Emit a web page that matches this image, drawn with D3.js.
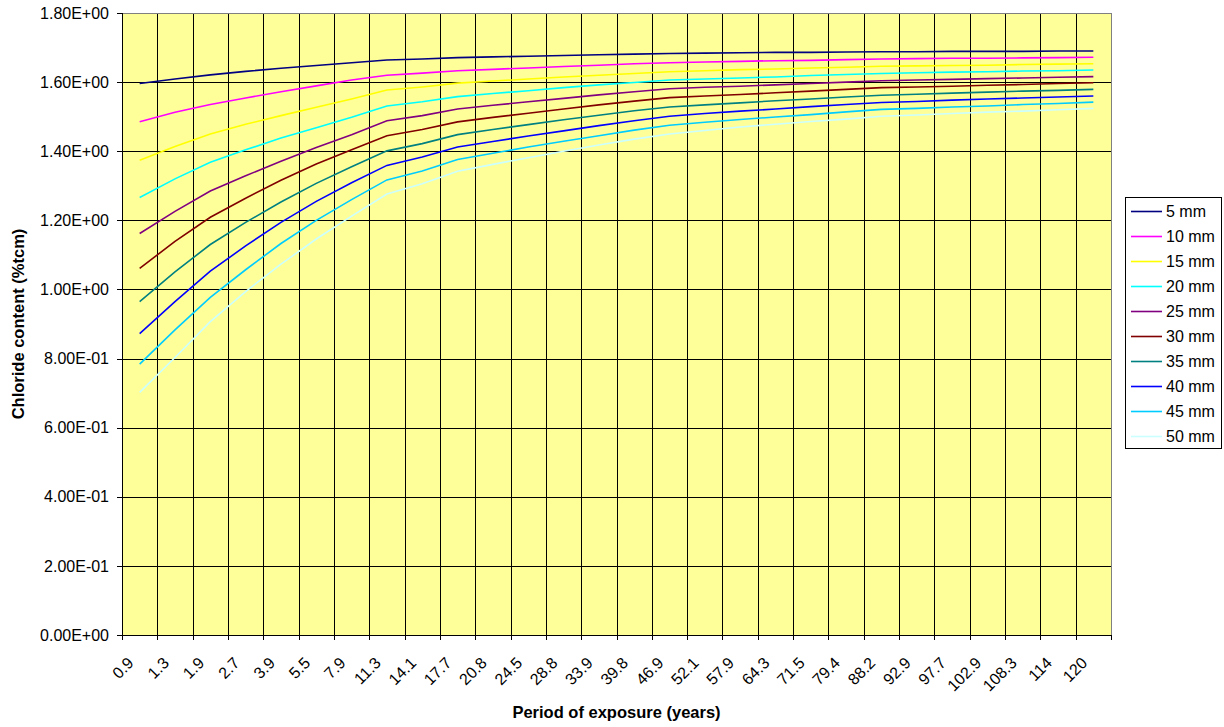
<!DOCTYPE html>
<html>
<head>
<meta charset="utf-8">
<script src="https://cdn.jsdelivr.net/npm/d3@7"></script>
<style>
  body { margin: 0; background: #fff; }
  text { font-family: "Liberation Sans", Arial, sans-serif; fill: #000; }
</style>
</head>
<body>
<div id="chart"></div>
<script>
// period of exposure (years)
var categories = ["0.9", "1.3", "1.9", "2.7", "3.9", "5.5", "7.9", "11.3", "14.1", "17.7",
  "20.8", "24.5", "28.8", "33.9", "39.8", "46.9", "52.1", "57.9", "64.3", "71.5",
  "79.4", "88.2", "92.9", "97.7", "102.9", "108.3", "114", "120"];

var yTicks = [0, 0.2, 0.4, 0.6, 0.8, 1.0, 1.2, 1.4, 1.6, 1.8];

var seriesNames = ["5 mm", "10 mm", "15 mm", "20 mm", "25 mm", "30 mm", "35 mm", "40 mm", "45 mm", "50 mm"];
var seriesColors = ["#000080", "#ff00ff", "#ffff00", "#00ffff", "#800080", "#800000", "#008080", "#0000ff", "#00ccff", "#ccffff"];

var s5 = [1.596, 1.609, 1.621, 1.631, 1.640, 1.648, 1.656, 1.664, 1.667, 1.671, 1.673, 1.675, 1.677, 1.679,
  1.681, 1.683, 1.684, 1.685, 1.686, 1.686, 1.687, 1.688, 1.688, 1.689, 1.689, 1.689, 1.690, 1.690];
var s10 = [1.485, 1.513, 1.535, 1.554, 1.572, 1.589, 1.606, 1.620, 1.626, 1.633, 1.637, 1.641, 1.645, 1.649,
  1.653, 1.656, 1.658, 1.660, 1.662, 1.663, 1.665, 1.667, 1.668, 1.669, 1.669, 1.670, 1.671, 1.672];
var s15 = [1.374, 1.414, 1.450, 1.478, 1.503, 1.527, 1.551, 1.577, 1.586, 1.597, 1.603, 1.609, 1.615, 1.620,
  1.625, 1.630, 1.633, 1.636, 1.638, 1.641, 1.643, 1.646, 1.647, 1.648, 1.649, 1.651, 1.652, 1.653];
var s20 = [1.266, 1.320, 1.368, 1.404, 1.438, 1.468, 1.498, 1.531, 1.543, 1.558, 1.567, 1.575, 1.584, 1.592,
  1.599, 1.606, 1.609, 1.612, 1.615, 1.619, 1.622, 1.625, 1.627, 1.629, 1.630, 1.632, 1.633, 1.635];
var s25 = [1.162, 1.226, 1.285, 1.329, 1.371, 1.411, 1.448, 1.488, 1.503, 1.522, 1.533, 1.543, 1.553, 1.563,
  1.572, 1.581, 1.585, 1.588, 1.592, 1.596, 1.600, 1.604, 1.606, 1.608, 1.610, 1.612, 1.614, 1.616];
var s30 = [1.061, 1.139, 1.209, 1.264, 1.316, 1.363, 1.404, 1.445, 1.463, 1.485, 1.498, 1.510, 1.522, 1.534,
  1.545, 1.555, 1.560, 1.564, 1.569, 1.574, 1.579, 1.584, 1.586, 1.588, 1.591, 1.593, 1.596, 1.598];
var s35 = [0.965, 1.051, 1.130, 1.194, 1.253, 1.307, 1.355, 1.401, 1.422, 1.448, 1.463, 1.477, 1.491, 1.504,
  1.517, 1.528, 1.534, 1.540, 1.546, 1.551, 1.557, 1.562, 1.565, 1.568, 1.571, 1.574, 1.576, 1.579];
var s40 = [0.872, 0.965, 1.053, 1.126, 1.194, 1.255, 1.309, 1.359, 1.383, 1.412, 1.428, 1.444, 1.459, 1.474,
  1.488, 1.501, 1.509, 1.516, 1.522, 1.529, 1.535, 1.541, 1.544, 1.548, 1.551, 1.554, 1.557, 1.560];
var s45 = [0.784, 0.883, 0.977, 1.057, 1.133, 1.200, 1.260, 1.317, 1.343, 1.376, 1.394, 1.412, 1.429, 1.445,
  1.461, 1.475, 1.484, 1.492, 1.499, 1.506, 1.514, 1.521, 1.524, 1.528, 1.531, 1.535, 1.538, 1.542];
var s50 = [0.702, 0.803, 0.907, 0.994, 1.073, 1.146, 1.212, 1.276, 1.306, 1.342, 1.362, 1.381, 1.400, 1.418,
  1.435, 1.450, 1.460, 1.470, 1.478, 1.486, 1.493, 1.501, 1.505, 1.509, 1.513, 1.516, 1.520, 1.524];

var allSeries = [s5, s10, s15, s20, s25, s30, s35, s40, s45, s50];

var svgWidth = 1224;
var svgHeight = 727;
var margin = { top: 13, right: 113, bottom: 92, left: 122 };
var width = svgWidth - margin.left - margin.right;
var height = svgHeight - margin.top - margin.bottom;

var svg = d3.select("#chart").append("svg")
  .attr("width", svgWidth)
  .attr("height", svgHeight);

var chartGroup = svg.append("g")
  .attr("transform", `translate(${margin.left}, ${margin.top})`);

// scales
var xBand = d3.scaleBand().domain(categories).range([0, width]).padding(0);
var xEdge = d3.scaleLinear().domain([0, categories.length]).range([0, width]);
var yLinearScale = d3.scaleLinear().domain([0, 1.8]).range([height, 0]);

function sciFormat(d) {
  var parts = d.toExponential(2).split("e");
  var e = parseInt(parts[1], 10);
  var sign = e < 0 ? "-" : "+";
  return parts[0] + "E" + sign + String(Math.abs(e)).padStart(2, "0");
}

// plot background
chartGroup.append("rect")
  .attr("width", width)
  .attr("height", height)
  .attr("fill", "#ffff99");

// gridlines
chartGroup.append("g")
  .attr("class", "ygrid")
  .call(d3.axisLeft(yLinearScale).tickValues(yTicks).tickSize(-width).tickFormat(""))
  .call(g => g.select(".domain").remove())
  .selectAll("line").attr("stroke", "#000").attr("shape-rendering", "crispEdges");

chartGroup.append("g")
  .attr("class", "xgrid")
  .call(d3.axisTop(xEdge).tickValues(d3.range(1, categories.length)).tickSize(-height).tickFormat(""))
  .call(g => g.select(".domain").remove())
  .selectAll("line").attr("stroke", "#000").attr("shape-rendering", "crispEdges");

// plot border top/right
chartGroup.append("path")
  .attr("d", `M0,0H${width}V${height}`)
  .attr("fill", "none")
  .attr("stroke", "#808080")
  .attr("shape-rendering", "crispEdges");

// lines
var line = d3.line()
  .x((d, i) => xBand(categories[i]) + xBand.bandwidth() / 2)
  .y(d => yLinearScale(d));

chartGroup.selectAll(".series")
  .data(allSeries)
  .enter()
  .append("path")
  .attr("class", "series")
  .attr("d", d => line(d))
  .attr("fill", "none")
  .attr("stroke", (d, i) => seriesColors[i])
  .attr("stroke-width", 1.6);

// y axis
var leftAxis = d3.axisLeft(yLinearScale).tickValues(yTicks).tickSize(5).tickPadding(8).tickFormat(sciFormat);
var yAxisG = chartGroup.append("g").call(leftAxis);
yAxisG.selectAll("line, path").attr("stroke", "#000").attr("shape-rendering", "crispEdges");
yAxisG.selectAll("text").style("font-size", "16px");

// x axis ticks at category edges
var xTickG = chartGroup.append("g")
  .attr("transform", `translate(0, ${height})`)
  .call(d3.axisBottom(xEdge).tickValues(d3.range(0, categories.length + 1)).tickSize(5).tickSizeOuter(0).tickFormat(""));
xTickG.selectAll("line, path").attr("stroke", "#000").attr("shape-rendering", "crispEdges");

// x labels, rotated
var xLabelG = chartGroup.append("g")
  .attr("transform", `translate(0, ${height})`)
  .call(d3.axisBottom(xBand).tickSize(0).tickPadding(0));
xLabelG.select(".domain").remove();
xLabelG.selectAll("text")
  .style("font-size", "16px")
  .attr("text-anchor", "end")
  .attr("dy", null)
  .attr("y", 0)
  .attr("transform", "translate(-5, 29) rotate(-45)");

// axis titles
chartGroup.append("text")
  .attr("transform", "rotate(-90)")
  .attr("x", 0 - (height / 2))
  .attr("y", 0 - margin.left + 24)
  .attr("text-anchor", "middle")
  .style("font-size", "16.5px")
  .style("font-weight", "bold")
  .text("Chloride content (%tcm)");

chartGroup.append("text")
  .attr("x", width / 2)
  .attr("y", height + 83)
  .attr("text-anchor", "middle")
  .style("font-size", "16.5px")
  .style("font-weight", "bold")
  .text("Period of exposure (years)");

// legend
var legend = svg.append("g").attr("transform", "translate(1125, 197)");
legend.append("rect")
  .attr("x", 0.5)
  .attr("y", 0.5)
  .attr("width", 96)
  .attr("height", 251)
  .attr("fill", "#fff")
  .attr("stroke", "#000");

var legendItem = legend.selectAll(".item")
  .data(seriesNames)
  .enter()
  .append("g")
  .attr("class", "item")
  .attr("transform", (d, i) => `translate(0, ${14.5 + i * 25})`);

legendItem.append("line")
  .attr("x1", 6)
  .attr("x2", 37)
  .attr("stroke", (d, i) => seriesColors[i])
  .attr("stroke-width", 1.6);

legendItem.append("text")
  .attr("x", 41)
  .attr("dy", "0.35em")
  .style("font-size", "16px")
  .text(d => d);
</script>
</body>
</html>
